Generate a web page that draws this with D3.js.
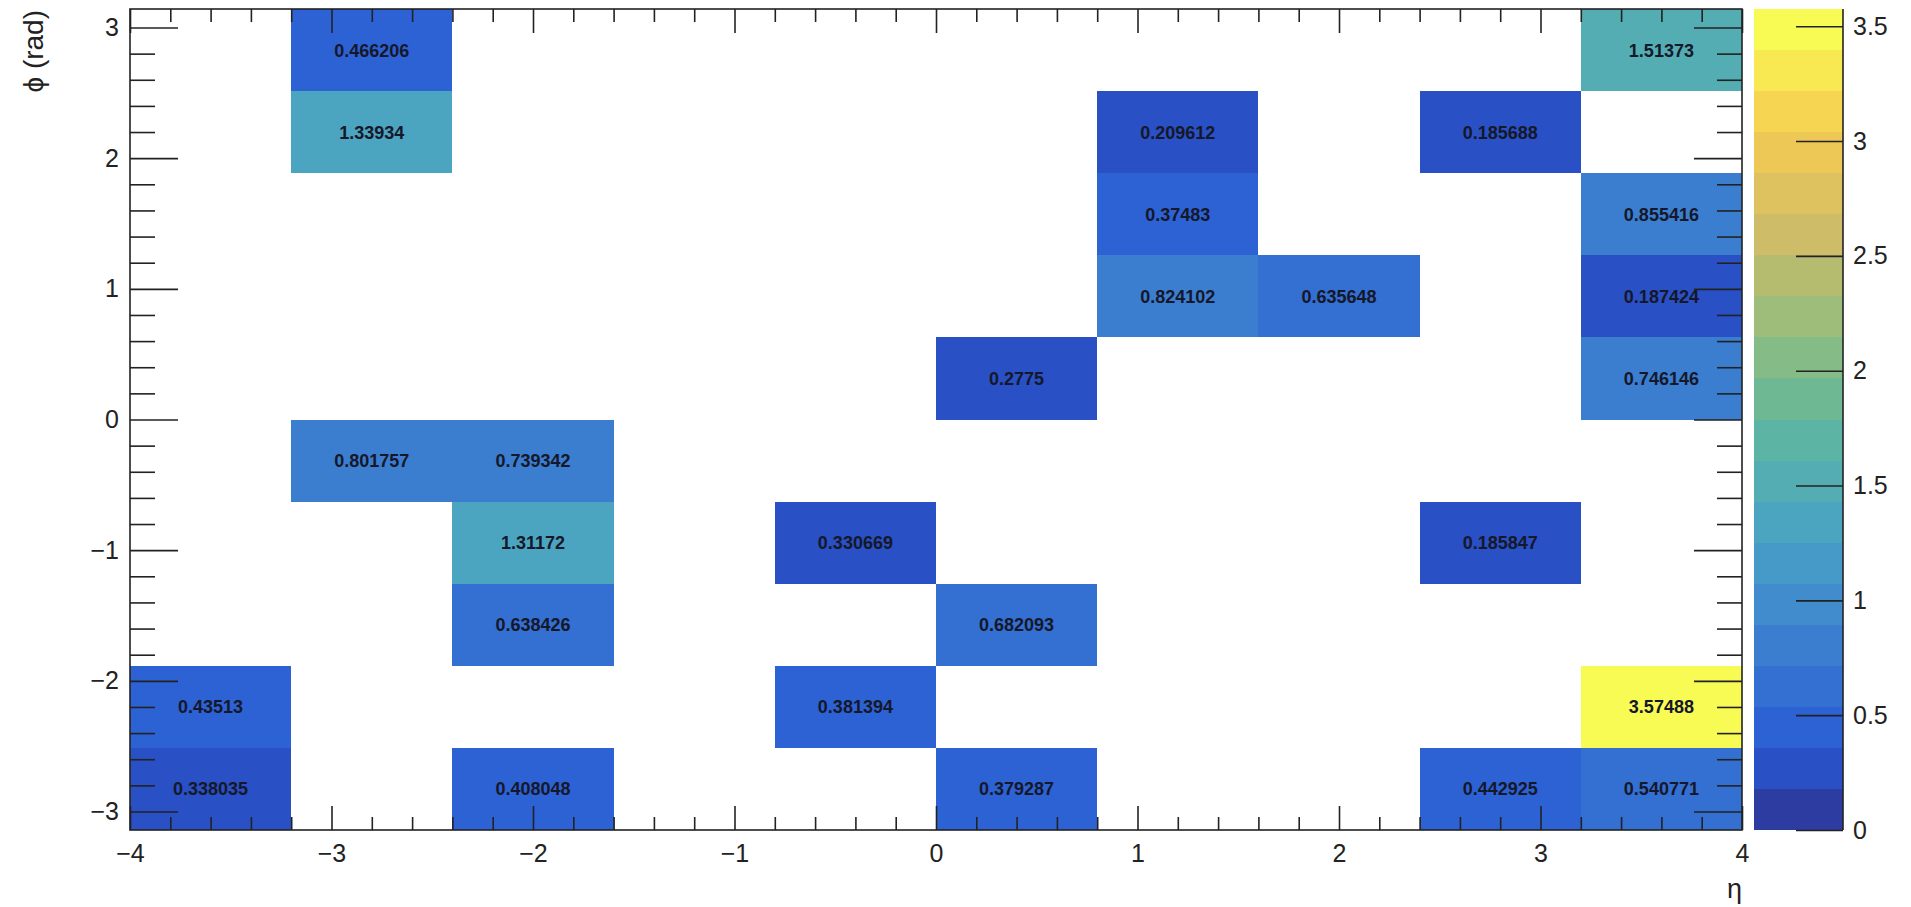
<!DOCTYPE html>
<html>
<head>
<meta charset="utf-8">
<script src="https://cdn.jsdelivr.net/npm/d3@7"></script>
<style>
  html, body { margin: 0; padding: 0; background: #ffffff; }
  svg { display: block; }
  text { font-family: "Liberation Sans", Arial, Helvetica, sans-serif; }
</style>
</head>
<body>
<svg id="chart" width="1911" height="907"></svg>
<script>
// Histogram binning: eta in [-4, 4], phi in [-pi, pi], 10 x 10 bins
const etaRange = [-4, 4];
const phiRange = [-Math.PI, Math.PI];
const nEtaBins = 10;
const nPhiBins = 10;

// Filled bins: eta bin index, phi bin index (0 = lowest), bin content
const cellEtaBin = [1, 1, 9, 6, 8, 6, 9, 6, 7, 9, 5, 9, 1, 2, 2, 4, 8, 2, 5, 0, 4, 9, 0, 2, 5, 8, 9];
const cellPhiBin = [9, 8, 9, 8, 8, 7, 7, 6, 6, 6, 5, 5, 4, 4, 3, 3, 3, 2, 2, 1, 1, 1, 0, 0, 0, 0, 0];
const cellValue  = [0.466206, 1.33934, 1.51373, 0.209612, 0.185688, 0.37483, 0.855416,
                    0.824102, 0.635648, 0.187424, 0.2775, 0.746146, 0.801757, 0.739342,
                    1.31172, 0.330669, 0.185847, 0.638426, 0.682093, 0.43513, 0.381394,
                    3.57488, 0.338035, 0.408048, 0.379287, 0.442925, 0.540771];

// Axis tick labels
const etaTicks = [-4, -3, -2, -1, 0, 1, 2, 3, 4];
const phiTicks = [-3, -2, -1, 0, 1, 2, 3];
const zTicks = [0, 0.5, 1, 1.5, 2, 2.5, 3, 3.5];
const minorStep = 0.2;
const nContours = 20;

// "Bird" palette stops
const birdStops = [0.0000, 0.1250, 0.2500, 0.3750, 0.5000, 0.6250, 0.7500, 0.8750, 1.0000];
const birdRed   = [0.2082, 0.0592, 0.0780, 0.0232, 0.1802, 0.5301, 0.8186, 0.9956, 0.9764];
const birdGreen = [0.1664, 0.3599, 0.5041, 0.6419, 0.7178, 0.7492, 0.7328, 0.7862, 0.9832];
const birdBlue  = [0.5293, 0.8684, 0.8385, 0.7914, 0.6425, 0.4662, 0.3499, 0.1968, 0.0539];

const svg = d3.select("#chart");

// Frame geometry
const frame = { left: 130, right: 1742, top: 9, bottom: 830 };
const bar = { left: 1754, right: 1843 };

const x = d3.scaleLinear().domain(etaRange).range([frame.left, frame.right]);
const y = d3.scaleLinear().domain(phiRange).range([frame.bottom, frame.top]);

const zMin = 0;
const zMax = d3.max(cellValue);
const z = d3.scaleLinear().domain([zMin, zMax]).range([frame.bottom, frame.top]);

// Colour values are re-expressed in the wide-gamut (Display P3) primaries
// and encoded with the sRGB curve, giving the softer tones of the figure.
const toLin = c => c <= 0.04045 ? c / 12.92 : Math.pow((c + 0.055) / 1.055, 2.4);
const toEnc = c => c <= 0.0031308 ? 12.92 * c : 1.055 * Math.pow(c, 1 / 2.4) - 0.055;
function toP3(r, g, b) {
  const R = toLin(r), G = toLin(g), B = toLin(b);
  const r2 = 0.8225 * R + 0.1774 * G;
  const g2 = 0.0332 * R + 0.9669 * G;
  const b2 = 0.0171 * R + 0.0724 * G + 0.9108 * B;
  return d3.rgb(toEnc(r2) * 255, toEnc(g2) * 255, toEnc(b2) * 255).formatHex();
}

// 255-colour gradient table built from the palette stops
const nColors = 255;
const rI = d3.scaleLinear().domain(birdStops).range(birdRed);
const gI = d3.scaleLinear().domain(birdStops).range(birdGreen);
const bI = d3.scaleLinear().domain(birdStops).range(birdBlue);
const paletteTable = d3.range(nColors).map(i => {
  const t = i / (nColors - 1);
  return toP3(rI(t), gI(t), bI(t));
});

function bandIndex(v) {
  const scale = nContours / (zMax - zMin);
  return Math.floor(0.01 + (v - zMin) * scale);
}
function bandColor(band) {
  let c = Math.floor((band + 0.99) * nColors / nContours);
  if (c > nColors - 1) c = nColors - 1;
  if (c < 0) c = 0;
  return paletteTable[c];
}

const etaW = (etaRange[1] - etaRange[0]) / nEtaBins;
const phiW = (phiRange[1] - phiRange[0]) / nPhiBins;

const cells = cellValue.map((v, i) => ({
  eta0: etaRange[0] + cellEtaBin[i] * etaW,
  phi0: phiRange[0] + cellPhiBin[i] * phiW,
  value: v
}));

// Bin rectangles
svg.append("g").selectAll("rect")
  .data(cells)
  .join("rect")
  .attr("x", d => x(d.eta0))
  .attr("y", d => y(d.phi0 + phiW))
  .attr("width", d => x(d.eta0 + etaW) - x(d.eta0))
  .attr("height", d => y(d.phi0) - y(d.phi0 + phiW))
  .attr("fill", d => bandColor(bandIndex(d.value)))
  .attr("shape-rendering", "crispEdges");

// Bin content labels
svg.append("g").selectAll("text")
  .data(cells)
  .join("text")
  .attr("x", d => x(d.eta0 + etaW / 2))
  .attr("y", d => y(d.phi0 + phiW / 2))
  .attr("dy", "0.36em")
  .attr("text-anchor", "middle")
  .attr("font-size", 18)
  .attr("font-weight", "bold")
  .attr("fill", "#15182a")
  .text(d => d3.format("")(d.value));

// Minor tick positions
function minors(domain, majors) {
  const lo = Math.ceil(domain[0] / minorStep - 1e-9);
  const hi = Math.floor(domain[1] / minorStep + 1e-9);
  return d3.range(lo, hi + 1).map(k => +(k * minorStep).toFixed(6))
    .filter(v => !majors.some(m => Math.abs(m - v) < 1e-6));
}
const etaMinor = minors(etaRange, etaTicks);
const phiMinor = minors(phiRange, phiTicks);

const axisColor = "#222";
const fmt = d3.format("");

function styleAxis(g, fontSize) {
  g.select(".domain").remove();
  g.selectAll(".tick line").attr("stroke", axisColor).attr("stroke-width", 1.6);
  g.selectAll(".tick text").attr("fill", "#222").attr("font-size", fontSize)
    .attr("font-family", '"Liberation Sans", Arial, Helvetica, sans-serif');
}

// Bottom axis
svg.append("g").attr("transform", `translate(0,${frame.bottom})`)
  .call(d3.axisBottom(x).tickValues(etaTicks).tickFormat(fmt).tickSize(-24).tickSizeOuter(0).tickPadding(14))
  .call(g => styleAxis(g, 25));
svg.append("g").attr("transform", `translate(0,${frame.bottom})`)
  .call(d3.axisBottom(x).tickValues(etaMinor).tickFormat("").tickSize(-13).tickSizeOuter(0))
  .call(g => styleAxis(g, 25));

// Top axis (ticks only)
svg.append("g").attr("transform", `translate(0,${frame.top})`)
  .call(d3.axisTop(x).tickValues(etaTicks).tickFormat("").tickSize(-24).tickSizeOuter(0))
  .call(g => styleAxis(g, 25));
svg.append("g").attr("transform", `translate(0,${frame.top})`)
  .call(d3.axisTop(x).tickValues(etaMinor).tickFormat("").tickSize(-13).tickSizeOuter(0))
  .call(g => styleAxis(g, 25));

// Left axis
svg.append("g").attr("transform", `translate(${frame.left},0)`)
  .call(d3.axisLeft(y).tickValues(phiTicks).tickFormat(fmt).tickSize(-48).tickSizeOuter(0).tickPadding(11))
  .call(g => styleAxis(g, 25));
svg.append("g").attr("transform", `translate(${frame.left},0)`)
  .call(d3.axisLeft(y).tickValues(phiMinor).tickFormat("").tickSize(-25).tickSizeOuter(0))
  .call(g => styleAxis(g, 25));

// Right axis (ticks only)
svg.append("g").attr("transform", `translate(${frame.right},0)`)
  .call(d3.axisRight(y).tickValues(phiTicks).tickFormat("").tickSize(-48).tickSizeOuter(0))
  .call(g => styleAxis(g, 25));
svg.append("g").attr("transform", `translate(${frame.right},0)`)
  .call(d3.axisRight(y).tickValues(phiMinor).tickFormat("").tickSize(-25).tickSizeOuter(0))
  .call(g => styleAxis(g, 25));

// Frame
svg.append("rect")
  .attr("x", frame.left).attr("y", frame.top)
  .attr("width", frame.right - frame.left).attr("height", frame.bottom - frame.top)
  .attr("fill", "none").attr("stroke", axisColor).attr("stroke-width", 1.6);

// Axis titles
svg.append("text")
  .attr("transform", `translate(43,${frame.top + 1}) rotate(-90)`)
  .attr("text-anchor", "end")
  .attr("font-size", 28)
  .attr("fill", "#222")
  .text("\u03D5 (rad)");

svg.append("text")
  .attr("x", frame.right)
  .attr("y", 898)
  .attr("text-anchor", "end")
  .attr("font-size", 27)
  .attr("fill", "#222")
  .text("\u03B7");

// Colour bar bands
const bands = d3.range(nContours).map(k => ({
  lo: zMin + k * (zMax - zMin) / nContours,
  hi: zMin + (k + 1) * (zMax - zMin) / nContours,
  k
}));
svg.append("g").selectAll("rect")
  .data(bands)
  .join("rect")
  .attr("x", bar.left)
  .attr("width", bar.right - bar.left)
  .attr("y", d => z(d.hi))
  .attr("height", d => z(d.lo) - z(d.hi))
  .attr("fill", d => bandColor(d.k))
  .attr("shape-rendering", "crispEdges");

// Colour bar axis
svg.append("g").attr("transform", `translate(${bar.right},0)`)
  .call(d3.axisRight(z).tickValues(zTicks).tickFormat(fmt).tickSize(-47).tickSizeOuter(0).tickPadding(10))
  .call(g => {
    g.select(".domain").remove();
    g.selectAll(".tick line").attr("stroke", axisColor).attr("stroke-width", 1.6);
    g.selectAll(".tick text").attr("fill", "#222").attr("font-size", 25)
      .attr("font-family", '"Liberation Sans", Arial, Helvetica, sans-serif');
  });
svg.append("line")
  .attr("x1", bar.right).attr("x2", bar.right)
  .attr("y1", frame.top).attr("y2", frame.bottom)
  .attr("stroke", axisColor).attr("stroke-width", 1.6);
</script>
</body>
</html>
